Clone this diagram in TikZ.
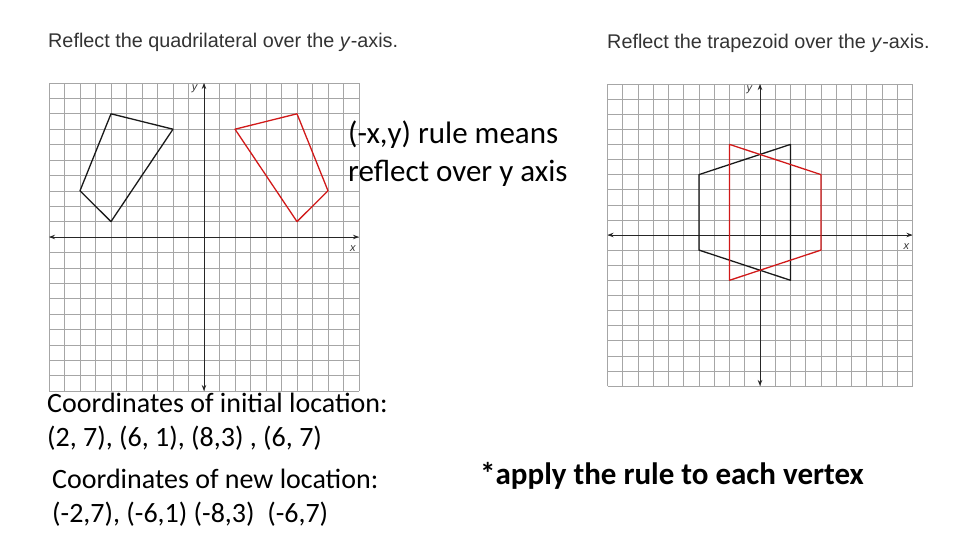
\documentclass[tikz,border=0pt]{standalone}
\usepackage{fontspec}
\setmainfont{Carlito}
\newfontfamily\titlefont{Liberation Sans}
\usetikzlibrary{arrows.meta}
\begin{document}
\begin{tikzpicture}[x=1pt,y=-1pt,
  gridl/.style={gray!70,line width=0.6pt},
  axis/.style={black!85,line width=1pt,{Stealth[length=6pt]}-{Stealth[length=6pt]}},
  blk/.style={black!90,line width=1.3pt,line join=round},
  rd/.style={red!80!black!90,line width=1.3pt,line join=round},
  ttl/.style={anchor=west,font=\titlefont\fontsize{19.8}{22}\selectfont,text=black!80,inner sep=0pt},
  body/.style={anchor=west,font=\fontsize{28}{34}\selectfont,align=left,inner sep=0pt},
  axl/.style={font=\titlefont\itshape\fontsize{11}{11}\selectfont,text=black!80,inner sep=0pt}]
\useasboundingbox (0,0) rectangle (960,540);
\node[ttl] (t1) at (48,42) {Reflect the quadrilateral over the \textit{y}-axis.};
\node[ttl] (t2) at (607,43) {Reflect the trapezoid over the \textit{y}-axis.};
% left grid
\begin{scope}[shift={(204,237)},x=15.5pt,y=15.4pt]
  \draw[gridl,step=1] (-10,-10) grid (10,10);
  \draw[axis] (-10,0) -- (10,0);
  \draw[axis] (0,-10) -- (0,10);
  \node[axl] (lx) at (9.6,-0.75) {x};
  \node[axl] (ly) at (-0.6,9.6) {y};
  \draw[blk] (-6,8) -- (-2,7) -- (-6,1) -- (-8,3) -- cycle;
  \draw[rd] (2,7) -- (6,8) -- (8,3) -- (6,1) -- cycle;
\end{scope}
% right grid
\begin{scope}[shift={(760,235)},x=15.25pt,y=15.1pt]
  \draw[gridl,step=1] (-10,-10) grid (10,10);
  \draw[axis] (-10,0) -- (10,0);
  \draw[axis] (0,-10) -- (0,10);
  \node[axl] (rx) at (9.6,-0.75) {x};
  \node[axl] (ry) at (-0.7,9.6) {y};
  \draw[blk] (-4,4) -- (2,6) -- (2,-3) -- (-4,-1) -- cycle;
  \draw[rd] (-2,6) -- (4,4) -- (4,-1) -- (-2,-3) -- cycle;
\end{scope}
\node[body,font=\fontsize{31}{38}\selectfont] (rule) at (348,154) {(-x,y) rule means\\reflect over y axis};
\node[body] (init) at (47,422) {Coordinates of initial location:\\(2, 7), (6, 1), (8,3) , (6, 7)};
\node[body] (new) at (52,498) {Coordinates of new location:\\(-2,7), (-6,1) (-8,3)\ \ (-6,7)};
\node[anchor=west,inner sep=0pt,font=\bfseries\fontsize{31}{36}\selectfont] (apply) at (480,476) {*apply the rule to each vertex};
\end{tikzpicture}
\end{document}
